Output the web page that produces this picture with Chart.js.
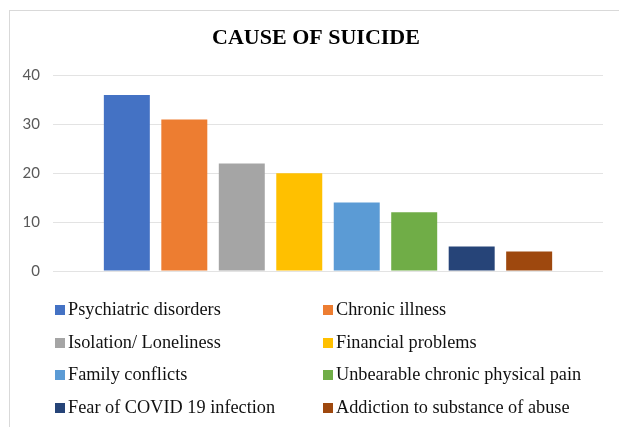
<!DOCTYPE html>
<html lang="en">
<head>
  <meta charset="UTF-8">
  <title>Cause of Suicide</title>
  <script src="https://cdn.jsdelivr.net/npm/chart.js"></script>
  <style>
    html, body {
      margin: 0;
      padding: 0;
      background: #fff;
      overflow: hidden;
    }
    #wrap {
      position: relative;
      width: 619px;
      height: 427px;
    }
    #frame {
      position: absolute;
      left: 9px;
      top: 10px;
      width: 700px;
      height: 500px;
      border-left: 1px solid #d9d9d9;
      border-top: 1px solid #d9d9d9;
    }
    #chart {
      position: absolute;
      left: 0;
      top: 0;
    }
    #legend {
      position: absolute;
      left: 55px;
      top: 293px;
      display: grid;
      grid-template-columns: 268px 280px;
      font-family: "Liberation Serif", "Times New Roman", serif;
      font-size: 18.3px;
      color: #111;
    }
    .item {
      height: 32.7px;
      line-height: 32.7px;
      white-space: nowrap;
    }
    .sw {
      display: inline-block;
      width: 10px;
      height: 10px;
      margin-right: 3px;
      vertical-align: 0px;
    }
  </style>
</head>
<body>
  <div id="wrap">
    <div id="frame"></div>
    <canvas id="chart" width="619" height="427"></canvas>
    <div id="legend"></div>
  </div>

  <script>
    const causes = [
      "Psychiatric disorders",
      "Chronic illness",
      "Isolation/ Loneliness",
      "Financial problems",
      "Family conflicts",
      "Unbearable chronic physical pain",
      "Fear of COVID 19 infection",
      "Addiction to substance of abuse"
    ];
    const counts = [36, 31, 22, 20, 14, 12, 5, 4];
    const colors = ["#4472C4", "#ED7D31", "#A5A5A5", "#FFC000", "#5B9BD5", "#70AD47", "#264478", "#9E480E"];
    const yTicks = [0, 10, 20, 30, 40];

    // one category, one dataset per cause (like the Excel original)
    const datasets = causes.map((c, i) => ({
      label: c,
      data: [counts[i]],
      backgroundColor: colors[i],
      categoryPercentage: 0.836,
      barPercentage: 0.8
    }));

    // title sits centred on the whole frame, not on padding+axis; nudge it right a bit
    const titleShift = {
      id: "titleShift",
      afterLayout(chart) {
        if (chart.titleBlock) chart.titleBlock.left += 16;
      }
    };

    new Chart(document.getElementById("chart"), {
      type: "bar",
      data: { labels: [""], datasets: datasets },
      plugins: [titleShift],
      options: {
        responsive: false,
        animation: false,
        layout: { padding: { left: 13, right: 16, top: 0, bottom: 156 } },
        plugins: {
          legend: { display: false },
          tooltip: { enabled: false },
          title: {
            display: true,
            text: "CAUSE OF SUICIDE",
            color: "#000",
            font: { family: "'Liberation Serif', 'Times New Roman', serif", size: 22, weight: "bold" },
            padding: { top: 25, bottom: 24 }
          }
        },
        scales: {
          x: { display: false },
          y: {
            min: 0,
            max: 40,
            afterBuildTicks: (s) => { s.ticks = yTicks.map(v => ({ value: v })); },
            afterFit: (s) => { s.width = 40; },
            border: { display: false },
            grid: { color: "#e3e3e3", drawTicks: false },
            ticks: {
              padding: 13,
              color: "#595959",
              font: { family: "Lato, 'Open Sans', sans-serif", size: 15 }
            }
          }
        }
      }
    });

    const legend = document.getElementById("legend");
    causes.forEach((c, i) => {
      const d = document.createElement("div");
      d.className = "item";
      d.innerHTML = '<span class="sw" style="background:' + colors[i] + '"></span>' + c;
      legend.appendChild(d);
    });
  </script>
</body>
</html>
